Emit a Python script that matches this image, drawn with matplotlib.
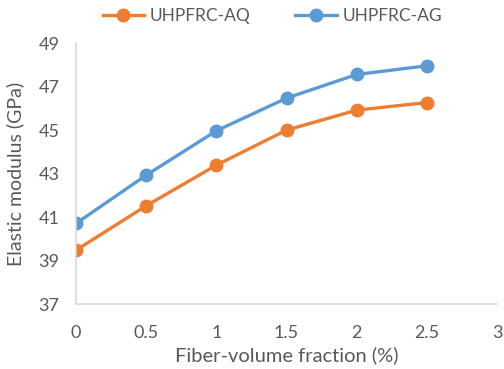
import matplotlib
matplotlib.use("Agg")
import matplotlib.pyplot as plt

fiber = [0, 0.5, 1, 1.5, 2, 2.5]
aq = [39.48, 41.52, 43.39, 45.0, 45.92, 46.27]
ag = [40.71, 42.93, 44.97, 46.47, 47.56, 47.96]
yticks = [37, 39, 41, 43, 45, 47, 49]
xticks = [0, 0.5, 1, 1.5, 2, 2.5, 3]

ORANGE = "#ED7D31"
BLUE = "#5B9BD5"
TEXT = "#595959"
AXIS = "#D9D9D9"

plt.rcParams["font.family"] = ["Lato", "DejaVu Sans"]

fig = plt.figure(figsize=(5.04, 3.69), dpi=100)
ax = fig.add_axes([0.151, 0.176, 0.835, 0.707])

ax.plot(fiber, aq, color=ORANGE, lw=2.4, marker="o", ms=9, label="UHPFRC-AQ")
ax.plot(fiber, ag, color=BLUE, lw=2.4, marker="o", ms=9, label="UHPFRC-AG")

ax.set_xlim(0, 3)
ax.set_ylim(37, 49)
ax.set_xticks(xticks)
ax.set_xticklabels([f"{t:g}" for t in xticks])
ax.set_yticks(yticks)

for side in ["top", "right"]:
    ax.spines[side].set_visible(False)
for side in ["left", "bottom"]:
    ax.spines[side].set_color(AXIS)
    ax.spines[side].set_linewidth(1.2)

ax.tick_params(length=0, labelsize=13, colors=TEXT)
ax.tick_params(axis="x", pad=15)
ax.tick_params(axis="y", pad=12)
ax.set_xlabel("Fiber-volume fraction (%)", fontsize=14.5, color=TEXT, labelpad=4)
ax.set_ylabel("Elastic modulus (GPa)", fontsize=14, color=TEXT, labelpad=10)

fig.legend(loc="upper center", bbox_to_anchor=(0.54, 1.02), ncol=2,
           frameon=False, fontsize=12.5, labelcolor=TEXT,
           handlelength=2.4, columnspacing=2.6, handletextpad=0.3)

fig.savefig("out.png", dpi=100)
